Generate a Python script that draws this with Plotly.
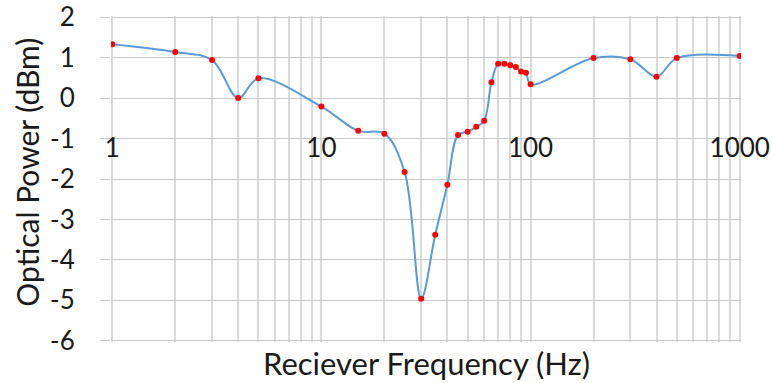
import plotly.graph_objects as go

freq_hz = [1, 2, 3, 4, 5, 10, 15, 20, 25, 30, 35, 40, 45, 50, 55, 60, 65, 70, 75,
           80, 85, 90, 95, 100, 200, 300, 400, 500, 1000]
power_dbm = [1.33, 1.14, 0.94, 0.0, 0.49, -0.21, -0.81, -0.88, -1.83, -4.96, -3.38,
             -2.14, -0.91, -0.83, -0.71, -0.56, 0.39, 0.85, 0.85, 0.81, 0.77, 0.66,
             0.63, 0.34, 0.99, 0.96, 0.53, 0.99, 1.04]

x_grid_vals = [m * 10 ** d for d in range(3) for m in range(1, 10)] + [1000]
x_major_labels = {1: "1", 10: "10", 100: "100", 1000: "1000"}
x_tick_text = [x_major_labels.get(v, "") for v in x_grid_vals]
y_tick_vals = [2, 1, 0, -1, -2, -3, -4, -5, -6]
y_tick_text = ["2", "1", "0", "-1", "-2", "-3", "-4", "-5", "-6"]

x_title = "Reciever Frequency (Hz)"
y_title = "Optical Power (dBm)"

FONT = "Lato"
XGRID = "#dadada"
YGRID = "#c9c9c9"

# tiny padding so plotly keeps the edge gridlines (it drops grid lines within 1px of the ends)
X_PAD = 0.006
Y_PAD = 0.03

fig = go.Figure()
fig.add_trace(go.Scatter(
    x=freq_hz, y=power_dbm, mode="lines+markers",
    line=dict(color="#5b9bd5", width=2, shape="spline", smoothing=1),
    marker=dict(color="#ff0000", size=6),
    showlegend=False, hoverinfo="skip",
))

fig.update_layout(
    width=772, height=383,
    margin=dict(l=111, r=31, t=16, b=41),
    paper_bgcolor="white", plot_bgcolor="white",
    font=dict(family=FONT, color="#1a1a1a"),
    xaxis=dict(
        type="log", range=[0 - X_PAD, 3 + X_PAD],
        tickvals=x_grid_vals, ticktext=x_tick_text,
        showgrid=True, gridcolor=XGRID, gridwidth=1.5,
        ticks="", showline=False, zeroline=False,
        anchor="free", position=0.65,
        tickfont=dict(family=FONT, size=26, color="#1a1a1a"),
        automargin=False,
    ),
    yaxis=dict(
        range=[-6 - Y_PAD, 2 + Y_PAD], tickvals=y_tick_vals, ticktext=y_tick_text,
        showgrid=True, gridcolor=YGRID, gridwidth=1.3,
        zeroline=False, showline=False,
        ticks="outside", ticklen=10, tickcolor=YGRID, tickwidth=1.3,
        ticklabelstandoff=20,
        tickfont=dict(family=FONT, size=26, color="#1a1a1a"),
        automargin=False,
    ),
    annotations=[
        dict(text=x_title, xref="paper", yref="paper", x=0.5, y=-0.065,
             xanchor="center", yanchor="middle", showarrow=False,
             font=dict(family=FONT, size=31, color="#1a1a1a")),
        dict(text=y_title, xref="paper", yref="paper", x=-0.1338, y=0.5216,
             xanchor="center", yanchor="middle", textangle=-90, showarrow=False,
             font=dict(family=FONT, size=30, color="#1a1a1a")),
    ],
)

fig.write_html(
    "out.html",
    config={"displayModeBar": False},
    post_script="document.body.style.margin='0';document.body.style.overflow='hidden';",
)
